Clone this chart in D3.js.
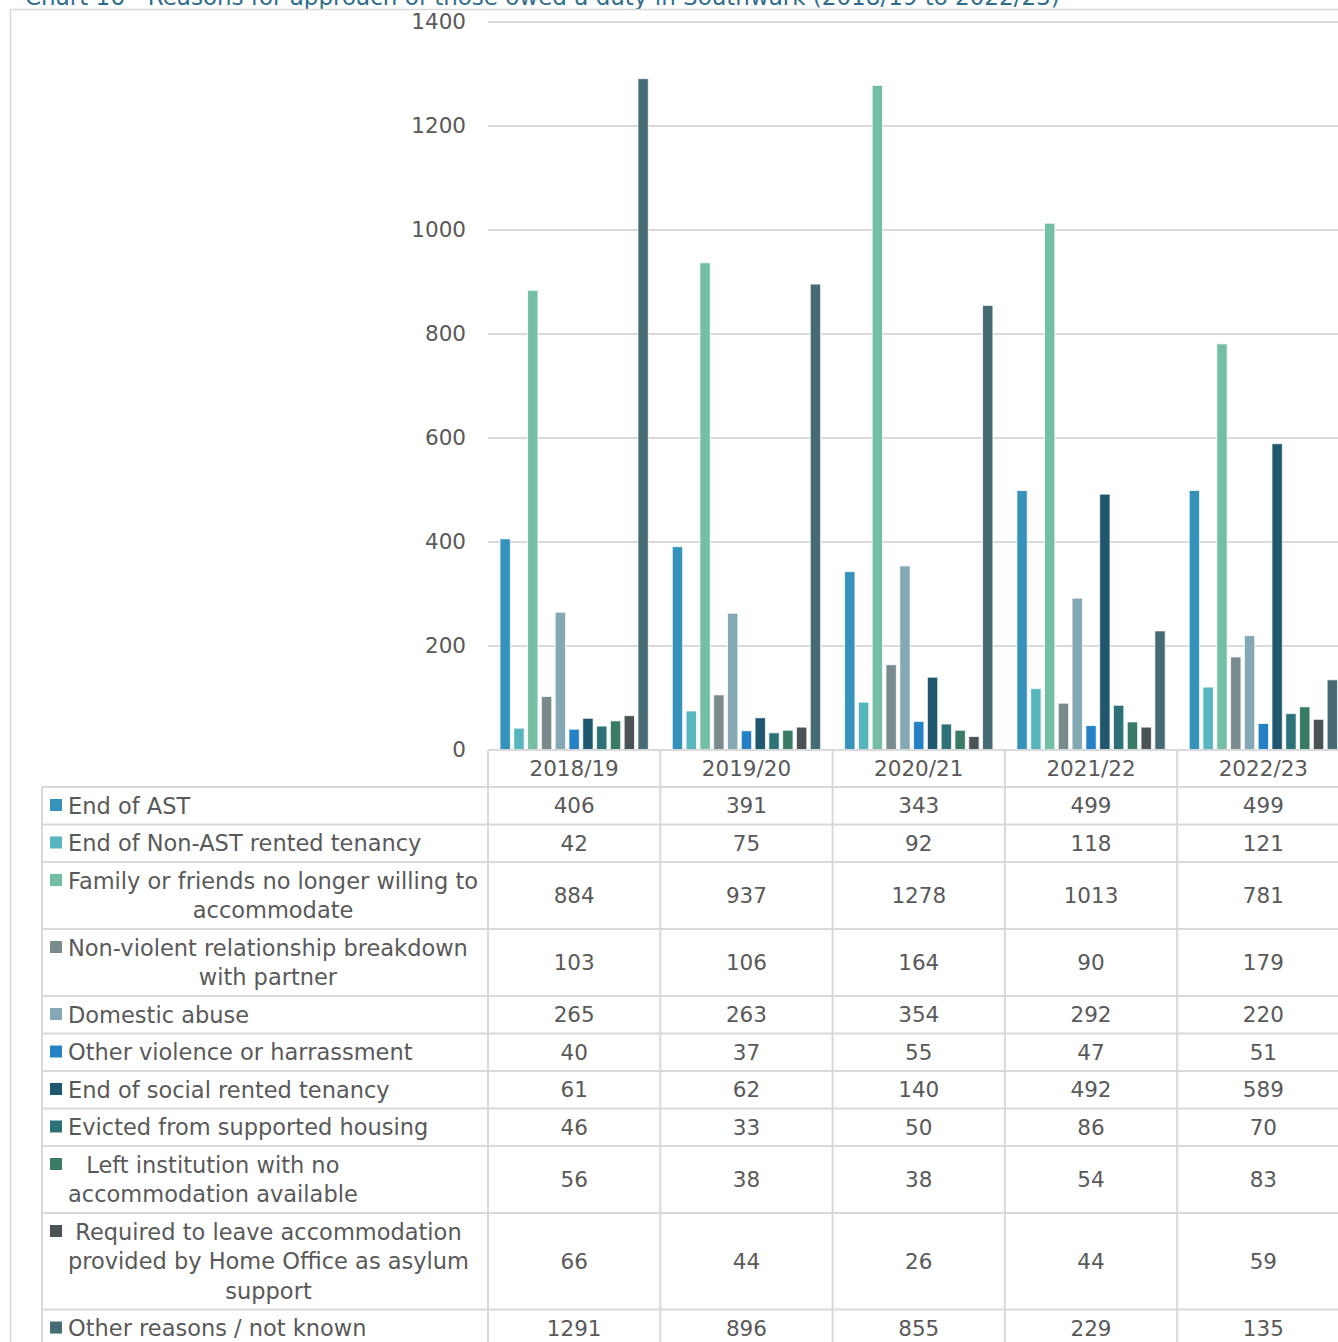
<!DOCTYPE html>
<html>
<head>
<meta charset="utf-8">
<script src="https://cdn.jsdelivr.net/npm/d3@7/dist/d3.min.js"></script>
<style>
  html, body { margin: 0; padding: 0; background: #ffffff; }
  svg { display: block; }
  text { font-family: "DejaVu Sans", "Noto Sans", sans-serif; fill: #595959; }
</style>
</head>
<body>
<svg id="chart" width="1338" height="1342"></svg>
<script>
// Reporting years (columns of the data table)
const years = ["2018/19", "2019/20", "2020/21", "2021/22", "2022/23"];

// Reasons for approach, with the line breaks used in the table's label column
const reasons = [
  ["End of AST"],
  ["End of Non-AST rented tenancy"],
  ["Family or friends no longer willing to", "accommodate"],
  ["Non-violent relationship breakdown", "with partner"],
  ["Domestic abuse"],
  ["Other violence or harrassment"],
  ["End of social rented tenancy"],
  ["Evicted from supported housing"],
  ["Left institution with no", "accommodation available"],
  ["Required to leave accommodation", "provided by Home Office as asylum", "support"],
  ["Other reasons / not known"]
];

const reasonColors = [
  "#3593bb", "#57b5c0", "#74bea6", "#7a8b8d", "#84a9b4", "#2581c6",
  "#1f586e", "#2c7276", "#3a7b65", "#4a5457", "#476b75"
];

// Households owed a duty, by reason (one array per reason, one value per year)
const endOfAST            = [406, 391, 343, 499, 499];
const endOfNonAST         = [42, 75, 92, 118, 121];
const familyFriends       = [884, 937, 1278, 1013, 781];
const nonViolentBreakdown = [103, 106, 164, 90, 179];
const domesticAbuse       = [265, 263, 354, 292, 220];
const otherViolence       = [40, 37, 55, 47, 51];
const endOfSocialTenancy  = [61, 62, 140, 492, 589];
const evictedSupported    = [46, 33, 50, 86, 70];
const leftInstitution     = [56, 38, 38, 54, 83];
const homeOfficeAsylum    = [66, 44, 26, 44, 59];
const otherReasons        = [1291, 896, 855, 229, 135];

const seriesValues = [
  endOfAST, endOfNonAST, familyFriends, nonViolentBreakdown, domesticAbuse,
  otherViolence, endOfSocialTenancy, evictedSupported, leftInstitution,
  homeOfficeAsylum, otherReasons
];

const yTicks = [0, 200, 400, 600, 800, 1000, 1200, 1400];

const titleText = "Chart 16 - Reasons for approach of those owed a duty in Southwark (2018/19 to 2022/23)";

// ---- layout ----
const svg = d3.select("#chart");
const gridColor = "#d9d9d9";
const plotLeft = 488, colWidth = 172.3;
const plotRight = plotLeft + colWidth * years.length;
const plotTop = 22, plotBottom = 750;
const fontSize = 21.5;
const labelFontSize = 22.5;

const x0 = d3.scaleBand().domain(years).range([plotLeft, plotRight]).padding(0);
const x1 = d3.scaleBand().domain(d3.range(reasons.length))
  .range([0, x0.bandwidth()]).paddingInner(0.25).paddingOuter(0.87);
const y = d3.scaleLinear().domain([0, 1400]).range([plotBottom, plotTop]);

// Title (runs off the top edge of the page)
svg.append("text")
  .attr("x", 25).attr("y", 5)
  .style("font-size", "23px")
  .style("fill", "#2f6d8c")
  .text(titleText);

// Outer chart frame
svg.append("path")
  .attr("d", `M10.5,1342 V9.5 H1338`)
  .attr("fill", "none").attr("stroke", gridColor).attr("stroke-width", 1.5);

// Gridlines and y-axis labels
const yAxis = d3.axisLeft(y).tickValues(yTicks).tickSize(0).tickPadding(22)
  .tickFormat(d3.format("d"));
const yg = svg.append("g").attr("transform", `translate(${plotLeft},0)`).call(yAxis);
yg.select(".domain").remove();
yg.selectAll("text")
  .style("font-size", fontSize + "px")
  .style("font-family", "'DejaVu Sans', 'Noto Sans', sans-serif")
  .attr("fill", "#595959");

svg.append("g").selectAll("line")
  .data(yTicks.filter(t => t > 0))
  .join("line")
  .attr("x1", plotLeft).attr("x2", 1338)
  .attr("y1", d => y(d)).attr("y2", d => y(d))
  .attr("stroke", gridColor).attr("stroke-width", 2);

// Bars
const groups = svg.append("g").selectAll("g")
  .data(years)
  .join("g")
  .attr("transform", d => `translate(${x0(d)},0)`);

groups.selectAll("rect")
  .data((yr, yi) => seriesValues.map((vals, si) => ({ si, v: vals[yi] })))
  .join("rect")
  .attr("x", d => x1(d.si))
  .attr("width", x1.bandwidth())
  .attr("y", d => y(d.v))
  .attr("height", d => y(0) - y(d.v))
  .attr("fill", d => reasonColors[d.si])
  .attr("stroke", "rgba(255,255,255,0.75)")
  .attr("stroke-width", 1);

// ---- data table ----
const headerTop = plotBottom, headerBottom = 787;
const lineH = 29.5;
const rowHeights = reasons.map(r => 8 + lineH * r.length);
const rowTops = [];
let acc = headerBottom;
rowHeights.forEach(h => { rowTops.push(acc); acc += h; });
const tableLeft = 42;

const table = svg.append("g");

// Header: year labels
table.selectAll("text.year")
  .data(years)
  .join("text")
  .attr("class", "year")
  .attr("x", d => x0(d) + x0.bandwidth() / 2)
  .attr("y", (headerTop + headerBottom) / 2)
  .attr("text-anchor", "middle")
  .attr("dominant-baseline", "central")
  .style("font-size", fontSize + "px")
  .text(d => d);

// Horizontal rules
table.append("line")
  .attr("x1", plotLeft).attr("x2", 1338)
  .attr("y1", headerTop).attr("y2", headerTop)
  .attr("stroke", gridColor).attr("stroke-width", 2);
table.selectAll("line.row")
  .data(rowTops.concat([acc]))
  .join("line")
  .attr("class", "row")
  .attr("x1", tableLeft).attr("x2", 1338)
  .attr("y1", d => d).attr("y2", d => d)
  .attr("stroke", gridColor).attr("stroke-width", 2);

// Vertical rules
table.selectAll("line.col")
  .data(years.map(d => x0(d)).concat([plotRight]))
  .join("line")
  .attr("class", "col")
  .attr("x1", d => d).attr("x2", d => d)
  .attr("y1", headerTop).attr("y2", 1342)
  .attr("stroke", gridColor).attr("stroke-width", 2);
table.append("line")
  .attr("x1", tableLeft).attr("x2", tableLeft)
  .attr("y1", headerBottom).attr("y2", 1342)
  .attr("stroke", gridColor).attr("stroke-width", 2);

// Row labels with legend keys; wrapped lines are centred within the label block
const labelX = 68, labelMaxW = 414;
reasons.forEach((lines, i) => {
  const top = rowTops[i];
  const g = table.append("g");
  g.append("rect")
    .attr("x", 50).attr("y", top + 12)
    .attr("width", 12).attr("height", 12)
    .attr("fill", reasonColors[i]);
  const texts = g.selectAll("text")
    .data(lines)
    .join("text")
    .attr("y", (d, k) => top + 4 + lineH * k + lineH / 2)
    .attr("dominant-baseline", "central")
    .style("font-size", labelFontSize + "px")
    .text(d => d);
  texts.each(function () {
    const w = this.getComputedTextLength();
    if (w > labelMaxW) d3.select(this).attr("textLength", labelMaxW).attr("lengthAdjust", "spacingAndGlyphs");
  });
  const widths = texts.nodes().map(n => Math.min(labelMaxW, n.getComputedTextLength()));
  const maxW = d3.max(widths);
  texts.attr("x", (d, k) => labelX + (maxW - widths[k]) / 2);

  // Values for each year
  table.selectAll(null)
    .data(years)
    .join("text")
    .attr("x", d => x0(d) + x0.bandwidth() / 2)
    .attr("y", top + rowHeights[i] / 2)
    .attr("text-anchor", "middle")
    .attr("dominant-baseline", "central")
    .style("font-size", fontSize + "px")
    .text((d, yi) => seriesValues[i][yi]);
});
</script>
</body>
</html>
